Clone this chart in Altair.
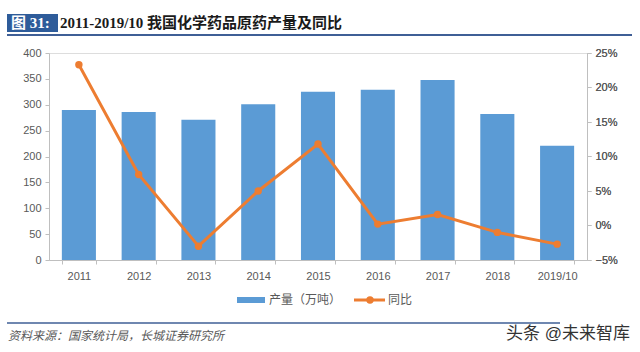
import altair as alt
import pandas as pd

years = ["2011", "2012", "2013", "2014", "2015", "2016", "2017", "2018", "2019/10"]
output = [290, 286, 271, 301, 325, 329, 348, 282, 221]
yoy = [0.233, 0.074, -0.030, 0.050, 0.118, 0.002, 0.016, -0.010, -0.027]

df = pd.DataFrame({"year": years, "output": output, "yoy": yoy})

BLUE = "#5B9BD5"
ORANGE = "#ED7D31"
GRAY = "#595959"
AXISC = "#BFBFBF"
DARKBLUE = "#3F5F96"
SANS = "Liberation Sans, Noto Sans CJK SC"
SERIF = "Liberation Serif, Noto Sans CJK SC"

OX, OY = 49, 53  # plot origin in page coordinates

xenc = alt.X("year:N", sort=years, title=None,
             scale=alt.Scale(paddingInner=0.43, paddingOuter=0.215),
             axis=alt.Axis(labelAngle=0, labelFont=SANS, labelFontSize=11, labelColor=GRAY,
                           domainColor=AXISC, tickColor=AXISC, tickBand="extent",
                           tickSize=4, labelPadding=6, grid=False))

bars = alt.Chart(df).mark_bar(color=BLUE).encode(
    x=xenc,
    y=alt.Y("output:Q", title=None,
            scale=alt.Scale(domain=[0, 400], nice=False),
            axis=alt.Axis(values=list(range(0, 401, 50)), labelFont=SANS, labelFontSize=11,
                          labelColor=GRAY, domainColor=AXISC, tickColor=AXISC, tickSize=4,
                          grid=False, labelPadding=4)),
)

yr = alt.Y("yoy:Q", title=None,
           scale=alt.Scale(domain=[-0.05, 0.25], nice=False),
           axis=alt.Axis(orient="right", values=[-0.05, 0, 0.05, 0.10, 0.15, 0.20, 0.25],
                         format=".0%", labelFont=SANS, labelFontSize=11, labelColor=GRAY,
                         domainColor=AXISC, tickColor=AXISC, tickSize=4, grid=False,
                         labelPadding=4))

line = alt.Chart(df).mark_line(color=ORANGE, strokeWidth=3).encode(x=xenc, y=yr)
pts = alt.Chart(df).mark_point(color=ORANGE, filled=True, opacity=1, size=55).encode(x=xenc, y=yr)

one = pd.DataFrame({"k": [0]})


def px(x):
    return alt.value(x - OX)


def py(y):
    return alt.value(y - OY)


def text(s, x, y, size, color, font, weight="normal", style="normal", align="left"):
    return alt.Chart(one).mark_text(text=s, fontSize=size, color=color, font=font,
                                    fontWeight=weight, fontStyle=style, align=align,
                                    baseline="middle").encode(x=px(x), y=py(y))


title_box = alt.Chart(one).mark_rect(color="#2E5C9A").encode(
    x=px(7), x2=px(58), y=py(14), y2=py(32))
title_num = text("图 31:", 11, 23, 15, "white", SERIF, weight="bold")
title_txt = text("2011-2019/10 我国化学药品原药产量及同比", 60, 23, 15, "#1a1a1a", SERIF, weight="bold")
title_rule = alt.Chart(one).mark_rule(color=DARKBLUE, strokeWidth=2).encode(
    x=px(7), x2=px(632), y=py(35))

leg_rect = alt.Chart(one).mark_rect(color=BLUE).encode(
    x=px(237), x2=px(265), y=py(297), y2=py(303))
leg_t1 = text("产量（万吨）", 269, 300, 12, GRAY, SANS)
leg_line = alt.Chart(one).mark_rule(color=ORANGE, strokeWidth=3).encode(
    x=px(354), x2=px(385), y=py(300))
leg_pt = alt.Chart(one).mark_point(color=ORANGE, filled=True, opacity=1, size=55).encode(
    x=px(370), y=py(300))
leg_t2 = text("同比", 388, 300, 12, GRAY, SANS)

foot_rule = alt.Chart(one).mark_rule(color=DARKBLUE, strokeWidth=1.5).encode(
    x=px(7), x2=px(560), y=py(323))
source = text("资料来源：国家统计局，长城证券研究所", 8, 336, 12, GRAY, SANS, style="italic")
wm = text("头条 @未来智库", 630, 334, 17, "#333333", SANS, align="right")

chart = alt.layer(
    bars, line, pts,
    title_box, title_num, title_txt, title_rule,
    leg_rect, leg_t1, leg_line, leg_pt, leg_t2,
    foot_rule, source, wm,
).resolve_scale(y="independent").properties(
    width=538, height=207,
    autosize=alt.AutoSizeParams(type="none"),
    padding={"left": OX, "top": OY, "right": 640 - OX - 538, "bottom": 352 - OY - 207},
).configure_view(stroke=None).configure(background="white")

chart.save("out.html", embed_options={"renderer": "svg", "actions": False})
